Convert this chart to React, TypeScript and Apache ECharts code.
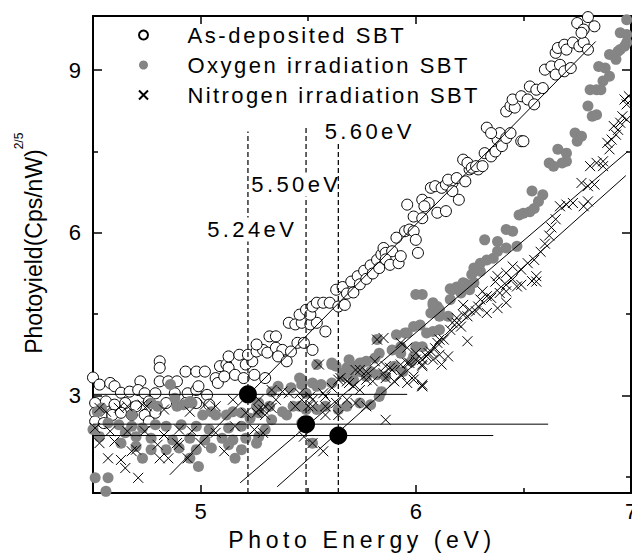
import React, { useEffect, useRef } from "react";
import * as echarts from "echarts";

const FONT = '"Liberation Sans", Arial, Helvetica, sans-serif';

const seriesNames = ["As-deposited SBT", "Oxygen irradiation SBT", "Nitrogen irradiation SBT"];

const xMajorTicks = [5, 6, 7];
const xMinorTicks = [5.5, 6.5];
const yMajorTicks = [3, 6, 9];
const yMinorTicks = [1.5, 4.5, 7.5];

const asDeposited: number[][] = [
  [4.50, 3.33], [4.53, 3.20], [4.81, 3.63], [4.81, 3.51], [4.93, 3.44], [4.98, 3.44], [5.02, 3.44], [5.09, 3.54], [5.12, 3.57], [5.13, 3.51], [5.21, 3.57], [5.24, 3.63],
  [4.58, 3.23], [4.60, 3.17], [4.72, 3.26], [4.81, 3.26], [4.85, 3.26], [4.89, 3.26], [5.07, 3.32], [5.08, 3.23], [5.11, 3.35], [5.16, 3.38], [5.20, 3.32], [5.25, 3.38], [5.30, 3.32],
  [4.63, 3.05], [4.67, 3.07], [4.71, 3.10], [4.74, 3.04], [4.79, 3.04], [4.88, 3.04], [4.94, 3.04], [4.98, 3.10], [4.99, 3.17], [5.03, 3.01],
  [4.51, 2.86], [4.56, 2.89], [4.60, 2.83], [4.65, 2.86], [4.70, 2.80], [4.76, 2.89], [4.84, 2.86], [4.93, 2.86], [4.98, 2.86], [5.04, 2.83],
  [4.51, 2.68], [4.54, 2.64], [4.59, 2.64], [4.63, 2.68], [4.68, 2.64], [4.74, 2.64], [4.79, 2.68], [4.51, 2.52], [4.55, 2.49], [4.76, 2.52],
  [5.13, 3.72], [5.18, 3.75], [5.22, 3.75], [5.26, 3.81], [5.29, 3.84], [5.31, 3.79], [5.35, 3.88], [5.38, 3.84], [5.26, 3.94], [5.32, 4.09], [5.35, 4.09], [5.36, 3.72], [5.42, 3.81], [5.40, 3.63],
  [5.45, 3.97], [5.48, 3.97], [5.52, 3.84], [5.41, 4.34], [5.44, 4.31], [5.47, 4.34], [5.51, 4.31], [5.54, 4.34], [5.58, 4.18],
  [5.46, 4.49], [5.49, 4.58], [5.51, 4.49], [5.52, 4.64], [5.54, 4.71], [5.57, 4.71], [5.60, 4.71], [5.64, 4.64], [5.67, 4.67],
  [5.63, 4.95], [5.66, 5.00], [5.68, 4.88], [5.70, 5.10], [5.71, 4.90], [5.73, 5.20], [5.74, 5.05], [5.76, 5.30], [5.77, 5.15], [5.79, 5.40], [5.80, 5.25], [5.82, 5.50], [5.83, 5.35], [5.84, 5.60],
  [5.85, 5.72], [5.86, 5.63], [5.89, 5.66], [5.86, 5.51], [5.88, 5.41], [5.92, 5.44], [5.93, 5.57], [6.01, 5.63], [5.91, 5.91], [5.95, 6.03], [5.97, 6.06], [5.99, 6.03], [6.00, 5.87],
  [5.96, 6.52], [5.99, 6.30], [6.03, 6.27], [6.03, 6.61], [6.06, 6.55], [6.04, 6.49], [6.10, 6.37], [6.14, 6.40], [6.20, 6.61],
  [6.07, 6.83], [6.09, 6.86], [6.12, 6.83], [6.14, 6.89], [6.17, 6.92], [6.17, 6.77], [6.15, 6.98], [6.19, 7.01], [6.23, 6.95], [6.25, 7.17], [6.29, 7.17],
  [6.22, 7.35], [6.24, 7.29], [6.26, 7.20], [6.28, 7.23], [6.31, 7.23], [6.32, 7.47], [6.35, 7.41], [6.37, 7.50], [6.38, 7.72], [6.39, 7.84], [6.40, 7.60], [6.42, 7.75], [6.44, 7.84], [6.49, 7.69], [6.50, 7.69], [6.33, 7.94], [6.35, 7.84],
  [6.42, 8.24], [6.44, 8.34], [6.46, 8.31], [6.45, 8.46], [6.49, 8.52], [6.52, 8.46], [6.55, 8.37], [6.53, 8.70], [6.56, 8.64], [6.59, 8.67],
  [6.60, 9.01], [6.63, 9.07], [6.65, 8.92], [6.67, 9.10], [6.69, 8.98], [6.72, 9.04],
  [6.65, 9.32], [6.66, 9.41], [6.69, 9.47], [6.70, 9.38], [6.73, 9.51], [6.76, 9.44], [6.78, 9.51], [6.80, 9.38],
  [6.75, 9.87], [6.78, 9.75], [6.83, 9.81], [6.77, 9.69], [6.80, 9.98],
];

const oxygen: number[][] = [
  [4.86, 3.20], [4.88, 2.95], [4.95, 2.89], [4.89, 2.80], [4.92, 2.83], [4.96, 2.86], [4.54, 2.77], [4.52, 2.70], [4.68, 2.64], [4.77, 2.86], [4.80, 2.80],
  [5.01, 2.64], [5.05, 2.70], [5.07, 2.64], [5.12, 2.64], [5.15, 2.70], [5.19, 2.68], [5.26, 2.80], [5.23, 2.58], [5.27, 2.68],
  [4.57, 2.49], [4.62, 2.46], [4.68, 2.43], [4.73, 2.40], [4.79, 2.46], [4.84, 2.43], [4.91, 2.46], [4.98, 2.43], [5.04, 2.37], [5.13, 2.40], [5.19, 2.43],
  [4.50, 2.37], [4.53, 2.24], [4.65, 2.31], [4.70, 2.24], [4.77, 2.21], [4.87, 2.18], [4.95, 2.21], [5.02, 2.18], [5.10, 2.21], [5.15, 2.18], [5.21, 2.21], [5.27, 2.24],
  [4.63, 2.12], [4.70, 2.06], [4.77, 2.00], [4.84, 2.00], [4.90, 2.03], [4.98, 2.00], [5.05, 2.03], [5.13, 2.09], [5.19, 2.00], [5.26, 2.12],
  [4.73, 1.84], [4.95, 1.84], [4.99, 1.69], [5.16, 1.84], [4.51, 1.48], [4.57, 1.48], [4.56, 1.23],
  [5.46, 3.32], [5.54, 3.57], [5.61, 3.57], [5.63, 3.54],
  [5.68, 3.51], [5.72, 3.54], [5.75, 3.60], [5.77, 3.63], [5.81, 3.69], [5.83, 3.78], [5.89, 3.84], [5.93, 3.90], [5.95, 4.15], [5.99, 4.27], [6.02, 4.30], [6.07, 4.52], [6.10, 4.64], [6.08, 4.71],
  [5.33, 3.07], [5.36, 3.17], [5.42, 3.14], [5.47, 3.20], [5.52, 3.23], [5.56, 3.20], [5.61, 3.23], [5.66, 3.35], [5.69, 3.41], [5.74, 3.44], [5.79, 3.44], [5.82, 3.38], [5.86, 3.35], [5.90, 3.54], [5.94, 3.44], [5.98, 3.63],
  [5.27, 2.86], [5.32, 2.80], [5.38, 2.70], [5.43, 2.80], [5.49, 2.74], [5.54, 2.74], [5.58, 2.80], [5.64, 2.74], [5.68, 2.80], [5.74, 2.86], [5.79, 2.83], [5.83, 2.98],
  [5.33, 2.55], [5.40, 2.64], [5.47, 2.49], [5.30, 2.37],
  [6.00, 4.86], [6.11, 4.58], [6.15, 4.46], [6.16, 4.97], [6.19, 5.00], [6.23, 5.06], [6.26, 5.23], [6.27, 5.35], [6.30, 5.29], [6.30, 5.44], [6.33, 5.50], [6.36, 5.53], [6.38, 5.66], [6.42, 5.72], [6.47, 5.75],
  [6.32, 5.87], [6.38, 5.84], [6.42, 6.06], [6.45, 6.03], [6.48, 6.33], [6.50, 6.36], [6.53, 6.39], [6.55, 6.45], [6.54, 6.77],
  [6.59, 6.70], [6.57, 6.58], [6.62, 7.29], [6.64, 7.23], [6.66, 7.54], [6.70, 7.47], [6.70, 7.32], [6.68, 7.29], [6.74, 7.84], [6.77, 7.78], [6.75, 7.69], [6.80, 8.34], [6.82, 8.15], [6.84, 8.18],
  [6.81, 8.64], [6.84, 8.64], [6.86, 8.64], [6.87, 8.80], [6.90, 8.89], [6.88, 9.04], [6.85, 9.07],
  [6.90, 9.29], [6.93, 9.20], [6.94, 9.35], [6.95, 9.38], [6.97, 9.44], [6.98, 9.51], [6.98, 9.66], [6.95, 9.69], [6.98, 9.93],
  [6.03, 4.86], [6.08, 4.67], [6.11, 4.46], [6.16, 4.77], [6.17, 4.95], [6.21, 4.89], [6.25, 4.95], [6.27, 5.08], [6.22, 5.08], [6.11, 4.21], [6.03, 3.90],
  [5.82, 4.03], [5.91, 4.12], [5.96, 4.15], [6.00, 3.90], [5.93, 3.78], [5.99, 3.72], [6.05, 4.15], [6.08, 4.18],
  [5.61, 3.60], [5.69, 3.66], [5.74, 3.60], [5.66, 3.41], [5.71, 3.29], [5.77, 3.35], [5.84, 3.07],
  [5.47, 3.29], [5.54, 3.17], [5.49, 3.04], [5.46, 2.80], [5.52, 2.12],
];

const nitrogen: number[][] = [
  [4.53, 2.77], [4.56, 2.70], [4.62, 2.77], [4.66, 2.80], [4.73, 2.83], [4.75, 2.80], [4.83, 2.74], [4.95, 2.70], [5.02, 2.83], [5.07, 2.80], [5.15, 2.92], [5.21, 2.68], [5.26, 2.68], [5.29, 2.74],
  [4.51, 2.40], [4.58, 2.34], [4.66, 2.34], [4.74, 2.34], [4.83, 2.27], [4.90, 2.37], [4.96, 2.34], [5.07, 2.31], [5.16, 2.43], [5.25, 2.37], [5.29, 2.31],
  [4.53, 2.12], [4.60, 2.15], [4.68, 1.97], [4.70, 2.00], [4.80, 2.09], [4.89, 2.12], [4.90, 2.09], [5.00, 2.12],
  [4.57, 1.84], [4.63, 1.81], [4.81, 1.84], [4.85, 1.84], [4.94, 1.84], [5.11, 1.97], [4.65, 1.66], [4.71, 1.48],
  [5.55, 3.57], [5.82, 4.03], [5.85, 4.06],
  [5.72, 3.47], [5.77, 3.44], [5.81, 3.63], [5.86, 3.54], [5.89, 3.47], [5.93, 3.57], [5.96, 3.60], [6.00, 3.66], [6.03, 3.57], [6.05, 3.72], [6.06, 3.78], [6.09, 3.87], [5.93, 3.38], [5.96, 3.23], [6.03, 3.17], [5.99, 3.35], [5.86, 3.32], [5.90, 3.26],
  [5.33, 3.10], [5.38, 3.07], [5.41, 3.04], [5.46, 3.04], [5.51, 2.98], [5.57, 3.04], [5.61, 3.14], [5.64, 3.29], [5.68, 3.26], [5.71, 3.17], [5.74, 3.10], [5.80, 3.26], [5.77, 3.29], [5.68, 2.92], [5.63, 2.86], [5.58, 2.80], [5.72, 2.86], [5.77, 2.80],
  [5.27, 2.92], [5.30, 2.80], [5.35, 2.92], [5.44, 2.80], [5.50, 2.80], [5.52, 2.92], [5.47, 2.92], [5.58, 2.64], [5.64, 2.64], [5.86, 2.55], [5.27, 2.74], [5.30, 2.64], [5.33, 2.77],
  [5.65, 3.32], [5.58, 2.98], [5.52, 2.80], [5.52, 2.12], [5.57, 1.97], [5.48, 2.24],
  [5.93, 3.97], [5.96, 3.88], [6.00, 3.78], [6.11, 4.03], [6.15, 3.72], [6.24, 4.00], [6.11, 3.75], [6.08, 3.66], [6.03, 3.54], [5.97, 3.60], [5.88, 3.51], [5.85, 3.41], [5.74, 3.47], [5.69, 3.23], [5.99, 3.29], [6.03, 3.20],
  [6.31, 4.92], [6.35, 4.80], [6.42, 4.71], [6.33, 4.52], [6.28, 4.55], [6.22, 4.67], [6.19, 4.34], [6.16, 4.21], [6.13, 4.03], [6.10, 3.97], [6.07, 3.81], [6.12, 3.57], [6.03, 3.66], [6.03, 3.17], [6.37, 5.10], [6.49, 5.04], [6.56, 5.10], [6.42, 4.92],
  [6.38, 5.20], [6.42, 5.26], [6.45, 5.38], [6.49, 5.32], [6.52, 5.44], [6.55, 5.50], [6.56, 5.20], [6.54, 5.11], [6.47, 5.01], [6.45, 5.14], [6.42, 5.04], [6.39, 4.89], [6.38, 4.61], [6.33, 4.83], [6.30, 4.77], [6.29, 4.64], [6.25, 4.58], [6.22, 4.49], [6.19, 4.43], [6.17, 4.34], [6.21, 4.27], [6.24, 4.46],
  [6.58, 5.65], [6.60, 5.80], [6.62, 5.95], [6.63, 6.10], [6.65, 6.25],
  [6.67, 6.49], [6.70, 6.52], [6.73, 6.55], [6.78, 6.49], [6.80, 6.58], [6.77, 6.92], [6.80, 6.86], [6.83, 6.89], [6.81, 7.23], [6.84, 7.29], [6.87, 7.23], [6.87, 7.32], [6.90, 7.54], [6.89, 7.66], [6.91, 7.72], [6.93, 7.81], [6.94, 7.90], [6.92, 7.97], [6.95, 8.03], [6.96, 8.15], [6.98, 8.09], [6.97, 8.46], [6.99, 8.52], [6.98, 8.37],
];

// linear fits (start / end points)
const fitLines: number[][][] = [
  [[4.857, 1.536], [6.836, 9.53]],
  [[5.184, 1.388], [6.985, 7.50]],
  [[5.356, 1.315], [6.976, 7.056]],
];

// background levels: [y, x end]
const baselineLevels = [3.02, 2.47, 2.26];
const baselineEnds = [5.96, 6.615, 6.36];
const baselineStart = 4.5;

// threshold energies (plotted positions) and dashed-line tops
const thresholdX = [5.22, 5.49, 5.64];
const thresholdTop = [7.87, 7.94, 7.80];
const thresholdBottom = 1.2;

const annotationLabels = ["5.24eV", "5.50eV", "5.60eV"];
const annotationX = [5.24, 5.445, 5.786];
const annotationY = [6.06, 6.89, 7.87];

const letterSpacing: Record<string, number> = {
  "As-deposited SBT": 2.6,
  "Oxygen irradiation SBT": 2.5,
  "Nitrogen irradiation SBT": 2.4,
  "Photo Energy (eV)": 4.6,
  "5.24eV": 3.4,
  "5.50eV": 3.4,
  "5.60eV": 3.4,
};

function makeXAxis(position: string, ticks: number[], len: number, showLine: boolean, showLabel: boolean): any {
  return {
    type: "value",
    min: 4.5,
    max: 7,
    position,
    axisLine: { show: showLine, onZero: false, lineStyle: { color: "#000", width: 2 } },
    axisTick: { show: true, inside: true, length: len, customValues: ticks, lineStyle: { color: "#000", width: 1.5 } },
    axisLabel: showLabel
      ? { show: true, customValues: ticks, fontSize: 22, color: "#000", fontFamily: FONT, margin: 7 }
      : { show: false },
    splitLine: { show: false },
  };
}

function makeYAxis(position: string, ticks: number[], len: number, showLine: boolean, showLabel: boolean): any {
  return {
    type: "value",
    min: 1.2,
    max: 10,
    position,
    axisLine: { show: showLine, onZero: false, lineStyle: { color: "#000", width: 2 } },
    axisTick: { show: true, inside: true, length: len, customValues: ticks, lineStyle: { color: "#000", width: 1.5 } },
    axisLabel: showLabel
      ? { show: true, customValues: ticks, fontSize: 22, color: "#000", fontFamily: FONT, margin: 12 }
      : { show: false },
    splitLine: { show: false },
  };
}

export default function App() {
  const ref = useRef<HTMLDivElement>(null);

  useEffect(() => {
    if (!ref.current) return;
    const chart = echarts.init(ref.current, null, { renderer: "svg" });

    const lineSeries: any[] = [];
    fitLines.forEach((seg, i) => {
      lineSeries.push({
        name: "fit" + i,
        type: "line",
        data: seg,
        symbol: "none",
        showSymbol: false,
        silent: true,
        lineStyle: { color: "#000", width: 1, opacity: 1 },
        z: 3,
      });
    });
    baselineLevels.forEach((y, i) => {
      lineSeries.push({
        name: "base" + i,
        type: "line",
        data: [[baselineStart, y], [baselineEnds[i], y]],
        symbol: "none",
        showSymbol: false,
        silent: true,
        lineStyle: { color: "#000", width: 1, opacity: 1 },
        z: 3,
      });
    });
    thresholdX.forEach((x, i) => {
      lineSeries.push({
        name: "thr" + i,
        type: "line",
        data: [[x, thresholdBottom], [x, thresholdTop[i]]],
        symbol: "none",
        showSymbol: false,
        silent: true,
        lineStyle: { color: "#111", width: 1.3, type: [5, 3], opacity: 1 },
        z: 3,
      });
    });

    const option: any = {
      animation: false,
      backgroundColor: "#fff",
      textStyle: { fontFamily: FONT },
      grid: { left: 93, right: 1, top: 16, bottom: 60, containLabel: false, outerBoundsMode: "none" },
      legend: {
        data: seriesNames,
        orient: "vertical",
        left: 133,
        top: 19,
        itemWidth: 78,
        itemHeight: 9,
        itemGap: 8,
        selectedMode: false,
        symbolKeepAspect: true,
        textStyle: { fontSize: 22, color: "#000", fontFamily: FONT },
      },
      xAxis: [
        makeXAxis("bottom", xMajorTicks, 8, true, true),
        makeXAxis("bottom", xMinorTicks, 5, false, false),
        makeXAxis("top", xMajorTicks, 8, true, false),
        makeXAxis("top", xMinorTicks, 5, false, false),
      ],
      yAxis: [
        makeYAxis("left", yMajorTicks, 9, true, true),
        makeYAxis("left", yMinorTicks, 5, false, false),
        makeYAxis("right", yMajorTicks, 9, true, false),
        makeYAxis("right", yMinorTicks, 5, false, false),
      ],
      graphic: [
        {
          type: "text",
          x: 33.5,
          y: 251.5,
          rotation: Math.PI / 2,
          silent: true,
          style: { text: "Photoyield(Cps/nW)", fontSize: 23, fontFamily: FONT, fill: "#000", align: "center", verticalAlign: "middle" },
        },
        {
          type: "text",
          x: 18.5,
          y: 141,
          rotation: Math.PI / 2,
          silent: true,
          style: { text: "2/5", fontSize: 12, fontFamily: FONT, fill: "#000", align: "center", verticalAlign: "middle" },
        },
        {
          type: "text",
          x: 362,
          y: 540,
          silent: true,
          style: { text: "Photo Energy (eV)", fontSize: 23, fontFamily: FONT, fill: "#000", align: "center", verticalAlign: "middle" },
        },
      ],
      series: [
        {
          name: seriesNames[0],
          type: "scatter",
          data: asDeposited,
          symbol: "circle",
          symbolSize: 11,
          itemStyle: { color: "#fff", borderColor: "#000", borderWidth: 1, opacity: 1 },
          z: 2,
        },
        {
          name: seriesNames[1],
          type: "scatter",
          data: oxygen,
          symbol: "circle",
          symbolSize: 11,
          itemStyle: { color: "#858585", opacity: 1 },
          z: 2,
        },
        {
          name: seriesNames[2],
          type: "scatter",
          data: nitrogen,
          symbol: "path://M0,0L10,10M10,0L0,10",
          symbolSize: 10,
          itemStyle: { color: "rgba(0,0,0,0)", borderColor: "#000", borderWidth: 1, opacity: 1 },
          z: 2,
        },
        ...lineSeries,
        {
          name: "thresholds",
          type: "scatter",
          data: thresholdX.map((x, i) => [x, baselineLevels[i]]),
          symbol: "circle",
          symbolSize: 18,
          silent: true,
          itemStyle: { color: "#000", opacity: 1 },
          z: 4,
        },
        {
          name: "annotations",
          type: "scatter",
          data: annotationLabels.map((t, i) => ({ name: t, value: [annotationX[i], annotationY[i]] })),
          symbol: "circle",
          symbolSize: 1,
          silent: true,
          itemStyle: { color: "rgba(0,0,0,0)", opacity: 1 },
          label: {
            show: true,
            position: "inside",
            formatter: "{b}",
            fontSize: 22,
            color: "#000",
            opacity: 1,
            fontFamily: FONT,
            backgroundColor: "#fff",
            padding: [1, 3],
          },
          z: 5,
        },
      ],
    };

    chart.setOption(option);

    const applySpacing = () => {
      if (!ref.current) return;
      ref.current.querySelectorAll("text").forEach((t) => {
        const key = (t.textContent || "").trim();
        const s = letterSpacing[key];
        if (s) (t as SVGTextElement).style.letterSpacing = s + "px";
      });
    };
    applySpacing();
    chart.on("finished", applySpacing);
    const timer = setTimeout(applySpacing, 50);

    return () => {
      clearTimeout(timer);
      chart.dispose();
    };
  }, []);

  return (
    <div
      ref={ref}
      style={{ position: "fixed", left: 0, top: 0, width: 632, height: 553, background: "#fff" }}
    />
  );
}
